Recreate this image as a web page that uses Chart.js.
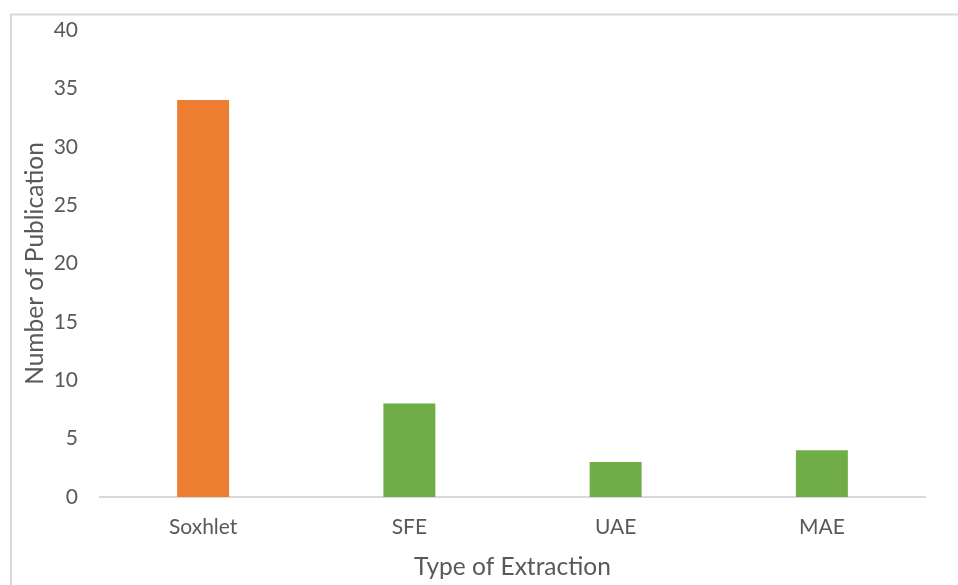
<!DOCTYPE html>
<html><head><meta charset="utf-8">
<script src="https://cdn.jsdelivr.net/npm/chart.js@4"></script>
<style>html,body{margin:0;padding:0;background:#fff;}#wrap{width:958px;height:585px;position:relative;}</style>
</head><body><div id="wrap"><canvas id="c" width="958" height="585"></canvas></div>
<script>
const categories = ["Soxhlet", "SFE", "UAE", "MAE"];
const publications = [34, 8, 3, 4];
const barColors = ["#ED7D31", "#70AD47", "#70AD47", "#70AD47"];
const yTitle = "Number of Publication";
const xTitle = "Type of Extraction";
const FONT = "Lato, 'Open Sans', sans-serif";

const frame = {
  id: 'frame',
  beforeDraw(chart) {
    const ctx = chart.ctx;
    ctx.save();
    ctx.strokeStyle = '#d9d9d9';
    ctx.lineWidth = 2;
    ctx.beginPath();
    ctx.moveTo(11, chart.height + 5);
    ctx.lineTo(11, 14.5);
    ctx.lineTo(chart.width + 5, 14.5);
    ctx.stroke();
    ctx.restore();
  }
};

new Chart(document.getElementById('c'), {
  type: 'bar',
  data: { labels: categories, datasets: [{ data: publications, backgroundColor: barColors, categoryPercentage: 0.5, barPercentage: 0.504 }] },
  plugins: [frame],
  options: {
    responsive: false, animation: false,
    layout: { padding: { left: 20, right: 33, top: 30, bottom: 0 } },
    plugins: { legend: { display: false }, tooltip: { enabled: false } },
    scales: {
      x: {
        grid: { display: false, drawTicks: false },
        border: { color: '#d9d9d9', width: 2 },
        ticks: { color: '#595959', font: { family: FONT, size: 21 }, padding: 18 },
        title: { display: true, text: xTitle, color: '#595959', font: { family: FONT, size: 24.5 }, padding: { top: 4, bottom: 3 } },
        afterFit(s) { s.height = 88; }
      },
      y: {
        min: 0, max: 40,
        grid: { display: false, drawTicks: false },
        border: { display: false },
        ticks: { stepSize: 5, color: '#595959', font: { family: FONT, size: 21 }, padding: 22 },
        title: { display: true, text: yTitle, color: '#595959', font: { family: FONT, size: 24.5 }, padding: { top: 0, bottom: 4 } },
        afterFit(s) { s.width = 80; s.paddingTop = 0; s.paddingBottom = 0; }
      }
    }
  }
});
</script></body></html>
